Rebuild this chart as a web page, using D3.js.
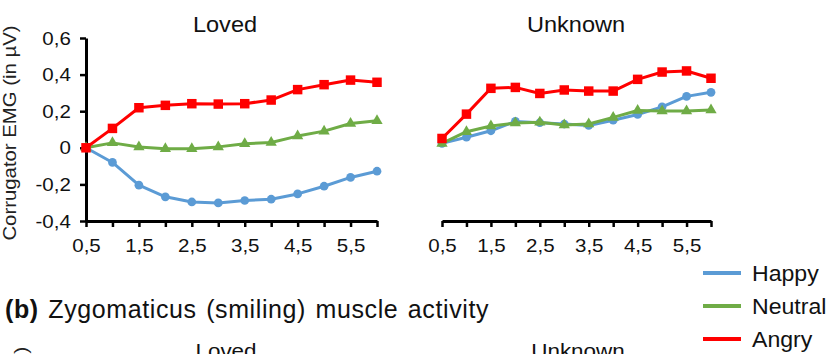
<!DOCTYPE html>
<html>
<head>
<meta charset="utf-8">
<script src="https://cdn.jsdelivr.net/npm/d3@7"></script>
<style>
  body { margin: 0; background: #fff; }
  svg { display: block; font-family: "Liberation Sans", Arial, sans-serif; }
</style>
</head>
<body>
<svg width="827" height="354"></svg>
<script>
// time in seconds
var times = [0.5, 1, 1.5, 2, 2.5, 3, 3.5, 4, 4.5, 5, 5.5, 6];
var tickLabels = ['0,5', '1,5', '2,5', '3,5', '4,5', '5,5'];
var yTicks = [-0.4, -0.2, 0, 0.2, 0.4, 0.6];

// Loved panel
var lovedHappy   = [0, -0.08, -0.204, -0.268, -0.296, -0.301, -0.288, -0.281, -0.252, -0.21, -0.162, -0.128];
var lovedNeutral = [0, 0.027, 0.004, -0.005, -0.005, 0.005, 0.022, 0.029, 0.064, 0.091, 0.133, 0.148];
var lovedAngry   = [0, 0.106, 0.219, 0.232, 0.241, 0.239, 0.241, 0.261, 0.318, 0.345, 0.37, 0.358];

// Unknown panel
var unknownHappy   = [0.024, 0.058, 0.093, 0.144, 0.137, 0.13, 0.122, 0.151, 0.182, 0.224, 0.281, 0.303];
var unknownNeutral = [0.024, 0.088, 0.119, 0.135, 0.139, 0.124, 0.13, 0.166, 0.204, 0.201, 0.201, 0.206];
var unknownAngry   = [0.051, 0.184, 0.325, 0.33, 0.297, 0.316, 0.31, 0.31, 0.374, 0.414, 0.42, 0.38];

var seriesNames = ['Happy', 'Neutral', 'Angry'];
var colors = {Happy: '#5b9bd5', Neutral: '#6fac46', Angry: '#ff0000'};
var shapes = {Happy: d3.symbolCircle, Neutral: d3.symbolTriangle, Angry: d3.symbolSquare};
var shapeSize = {Happy: 60, Neutral: 55, Angry: 90};

// the source text is drawn a little wider than Arial
function stretch(s) { return 'scale(' + s + ',1)'; }

var svg = d3.select('svg');

var yScale = d3.scaleLinear().domain([-0.4, 0.6]).range([221, 38]);

var panels = [
  {title: 'Loved', range: [86, 377], titleX: 225, data: [lovedHappy, lovedNeutral, lovedAngry], yAxis: true},
  {title: 'Unknown', range: [442, 711], titleX: 576, data: [unknownHappy, unknownNeutral, unknownAngry], yAxis: false}
];

panels.forEach(function(p) {
  var xScale = d3.scaleLinear().domain([0.5, 6]).range(p.range);

  // title
  svg.append('text')
    .attr('transform', 'translate(' + p.titleX + ',32)' + stretch(1.07))
    .attr('text-anchor', 'middle')
    .attr('font-size', 22)
    .attr('fill', '#111')
    .text(p.title);

  // x axis
  var xAxis = d3.axisBottom(xScale)
    .tickValues(times)
    .tickSize(6)
    .tickSizeOuter(0)
    .tickPadding(12)
    .tickFormat(function(d) {
      var i = tickLabels.indexOf(d3.format('.1f')(d).replace('.', ','));
      return i >= 0 ? tickLabels[i] : '';
    });

  var gx = svg.append('g')
    .attr('transform', 'translate(0,' + yScale(-0.4) + ')')
    .call(xAxis);
  gx.select('.domain').attr('stroke', '#000').attr('stroke-width', 3);
  gx.selectAll('.tick line').attr('stroke', '#000').attr('stroke-width', 2.5);
  gx.selectAll('.tick text')
    .attr('font-size', 19)
    .attr('fill', '#111')
    .attr('font-family', '"Liberation Sans", Arial, sans-serif')
    .attr('transform', stretch(1.08));

  if (p.yAxis) {
    var yAxis = d3.axisLeft(yScale)
      .tickValues(yTicks)
      .tickSize(6)
      .tickSizeOuter(0)
      .tickPadding(8)
      .tickFormat(function(d) {
        return d === 0 ? '0' : d3.format('.1f')(d).replace('.', ',').replace('−', '-');
      });
    var gy = svg.append('g')
      .attr('transform', 'translate(' + p.range[0] + ',0)')
      .call(yAxis);
    gy.select('.domain').attr('stroke', '#000').attr('stroke-width', 3);
    gy.selectAll('.tick line').attr('stroke', '#000').attr('stroke-width', 2.5);
    gy.selectAll('.tick text')
      .attr('font-size', 19)
      .attr('fill', '#111')
      .attr('font-family', '"Liberation Sans", Arial, sans-serif')
      .attr('transform', stretch(1.08));
  }

  var line = d3.line()
    .x(function(d, i) { return xScale(times[i]); })
    .y(function(d) { return yScale(d); });

  seriesNames.forEach(function(name, k) {
    var vals = p.data[k];
    svg.append('path')
      .datum(vals)
      .attr('fill', 'none')
      .attr('stroke', colors[name])
      .attr('stroke-width', 3)
      .attr('stroke-linejoin', 'round')
      .attr('d', line);

    svg.append('g').selectAll('path')
      .data(vals)
      .enter()
      .append('path')
      .attr('d', d3.symbol().type(shapes[name]).size(shapeSize[name]))
      .attr('fill', colors[name])
      .attr('transform', function(d, i) {
        return 'translate(' + xScale(times[i]) + ',' + yScale(d) + ')';
      });
  });
});

// y axis title
svg.append('text')
  .attr('transform', 'translate(16,133)rotate(-90)' + stretch(1.1))
  .attr('text-anchor', 'middle')
  .attr('font-size', 18.5)
  .attr('fill', '#222')
  .text('Corrugator EMG (in µV)');

// legend
var legend = svg.append('g');
seriesNames.forEach(function(name, i) {
  var ly = 273 + i * 33;
  legend.append('line')
    .attr('x1', 703).attr('x2', 741)
    .attr('y1', ly).attr('y2', ly)
    .attr('stroke', colors[name])
    .attr('stroke-width', 4);
  legend.append('text')
    .attr('transform', 'translate(752,' + (ly + 8) + ')' + stretch(1.05))
    .attr('font-size', 22)
    .attr('fill', '#111')
    .text(name);
});

// heading of the next panel (b)
var heading = svg.append('text')
  .attr('transform', 'translate(5,318)')
  .attr('font-size', 25)
  .attr('fill', '#111')
  .attr('letter-spacing', 0.6)
  .attr('word-spacing', 2);
heading.append('tspan').attr('font-weight', 'bold').text('(b)');
heading.append('tspan').text(' Zygomaticus (smiling) muscle activity');

// titles of the next row, cut by the bottom edge
svg.append('text')
  .attr('transform', 'translate(226,358)' + stretch(1.07))
  .attr('text-anchor', 'middle')
  .attr('font-size', 21)
  .attr('fill', '#111')
  .text('Loved');
svg.append('text')
  .attr('transform', 'translate(578,358)' + stretch(1.07))
  .attr('text-anchor', 'middle')
  .attr('font-size', 21)
  .attr('fill', '#111')
  .text('Unknown');
svg.append('text')
  .attr('transform', 'translate(27,580)rotate(-90)' + stretch(1.1))
  .attr('font-size', 18.5)
  .attr('fill', '#222')
  .text('Zygomaticus EMG (in µV)');
</script>
</body>
</html>
